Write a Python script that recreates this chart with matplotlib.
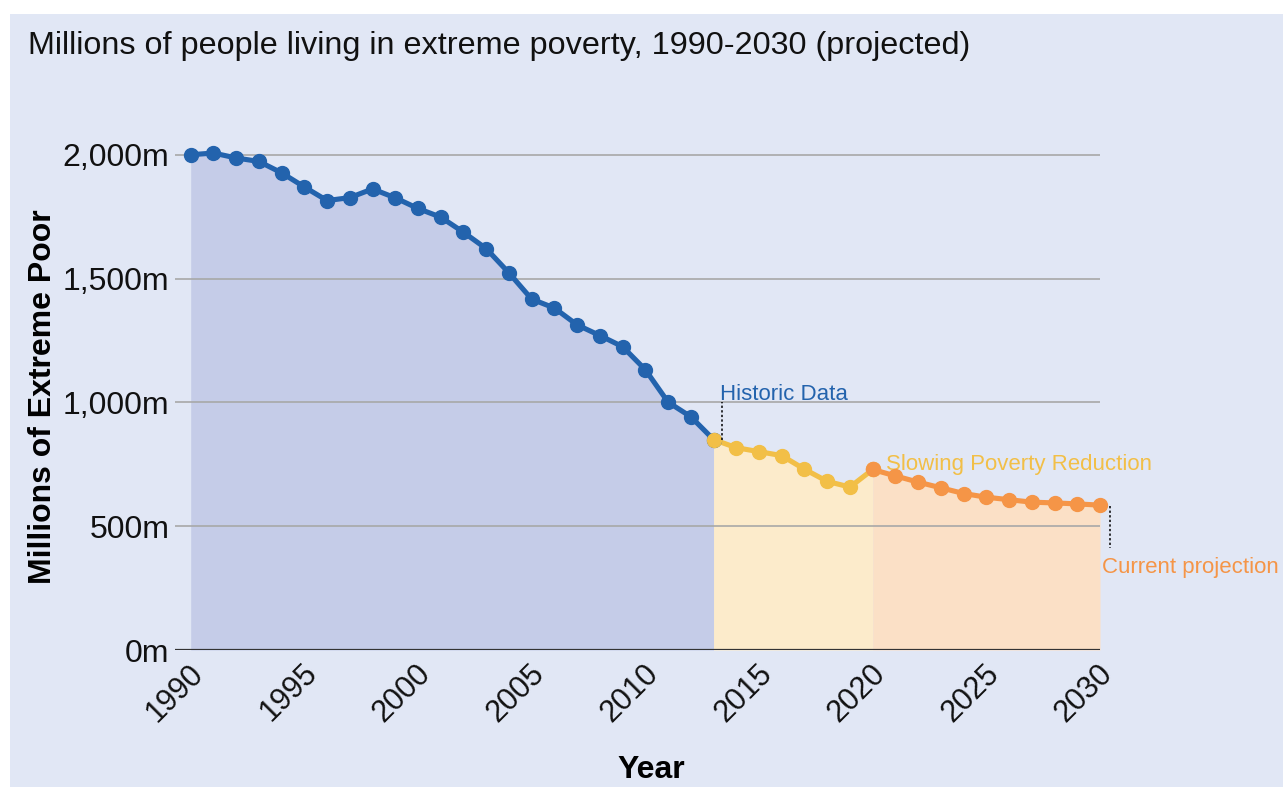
import matplotlib
matplotlib.use("Agg")
import matplotlib.pyplot as plt
import matplotlib.transforms as mtransforms
from matplotlib.patches import Rectangle
from matplotlib.ticker import FuncFormatter

plt.rcParams['font.family'] = ['Liberation Sans', 'DejaVu Sans']

# ---- data ----
hist_years = list(range(1990, 2014))
hist_values = [2000, 2007, 1987, 1973, 1927, 1870, 1815, 1827, 1862, 1826,
               1783, 1748, 1687, 1621, 1523, 1417, 1381, 1313, 1270, 1225,
               1132, 1001, 942, 850]
slow_years = list(range(2013, 2021))
slow_values = [850, 817, 801, 785, 730, 681, 658, 729]
proj_years = list(range(2020, 2031))
proj_values = [729, 703, 678, 655, 632, 617, 607, 597, 594, 590, 585]

y_ticks = [0, 500, 1000, 1500, 2000]
x_ticks = [1990, 1995, 2000, 2005, 2010, 2015, 2020, 2025, 2030]

title = "Millions of people living in extreme poverty, 1990-2030 (projected)"

# ---- colours ----
bg = '#e1e7f5'
blue, blue_fill = '#2363ad', '#c5cce8'
yellow, yellow_fill = '#f2bf47', '#fcebcb'
orange, orange_fill = '#f59547', '#fbe0c6'

W, H = 1283, 787
fig = plt.figure(figsize=(W / 100, H / 100), dpi=100, facecolor='white')
fig.patches.append(Rectangle((10 / W, 0), 1 - 10 / W, 1 - 14 / H,
                             transform=fig.transFigure, facecolor=bg,
                             edgecolor='none', zorder=-10))

left, right, bottom, top = 175, 1100, 650, 130
ax = fig.add_axes([left / W, 1 - bottom / H, (right - left) / W, (bottom - top) / H])
ax.set_facecolor('none')
ax.set_xlim(1989.31, 2030)
ax.set_ylim(0, 2100)

# fills
ax.fill_between(hist_years, hist_values, 0, color=blue_fill, lw=0, zorder=1)
ax.fill_between(slow_years, slow_values, 0, color=yellow_fill, lw=0, zorder=1)
ax.fill_between(proj_years, proj_values, 0, color=orange_fill, lw=0, zorder=1)

# grid
for v in y_ticks[1:]:
    ax.axhline(v, color='#a8a8a8', lw=1.2, zorder=2)
ax.axhline(0, color='#333333', lw=1.6, zorder=3)

# lines
lw, ms = 3.7, 10
ax.plot(proj_years, proj_values, color=orange, lw=lw, marker='o', ms=ms, zorder=4, clip_on=False)
ax.plot(slow_years, slow_values, color=yellow, lw=lw, marker='o', ms=ms, zorder=5, clip_on=False)
ax.plot(hist_years, hist_values, color=blue, lw=lw, marker='o', ms=ms, zorder=6, clip_on=False)
ax.plot([hist_years[-1]], [hist_values[-1]], color=yellow, marker='o', ms=ms, lw=0, zorder=7)
ax.plot([proj_years[0]], [proj_values[0]], color=orange, marker='o', ms=ms, lw=0, zorder=7)

# annotations
ax.plot([2013.36, 2013.36], [850, 1000], color='black', lw=1.1, ls=(0, (1.5, 1.5)), zorder=8)
ax.text(2013.3, 1010, "Historic Data", color=blue, fontsize=16, ha='left', va='baseline')
ax.text(2020.6, 725, "Slowing Poverty Reduction", color=yellow, fontsize=16, ha='left', va='baseline')
ax.plot([2030.45, 2030.45], [580, 410], color='black', lw=1.1, ls=(0, (1.5, 1.5)), zorder=8, clip_on=False)
ax.text(2030.1, 310, "Current projection", color=orange, fontsize=16, ha='left', va='baseline')

# axes styling
for s in ax.spines.values():
    s.set_visible(False)
ax.set_yticks(y_ticks)
ax.yaxis.set_major_formatter(FuncFormatter(lambda v, p: f"{int(v):,}m"))
ax.tick_params(axis='y', length=0, pad=4, labelsize=23, labelcolor='#111111')
ax.set_xticks(x_ticks)
ax.set_xticklabels([str(x) for x in x_ticks])
ax.tick_params(axis='x', length=0, pad=6, labelsize=22, labelcolor='#111111')
offset = mtransforms.ScaledTranslation(19 / 100, 0, fig.dpi_scale_trans)
for lab in ax.get_xticklabels():
    lab.set_rotation(45)
    lab.set_ha('right')
    lab.set_va('top')
    lab.set_transform(lab.get_transform() + offset)

ax.set_xlabel("Year", fontsize=23, fontweight='bold')
ax.xaxis.set_label_coords((651 - left) / (right - left), -(770 - bottom) / (bottom - top), transform=ax.transAxes)
ax.xaxis.label.set_va('center')
ax.set_ylabel("Millions of Extreme Poor", fontsize=23, fontweight='bold')
ax.yaxis.set_label_coords(-(left - 43) / (right - left), (bottom - 397) / (bottom - top))
ax.yaxis.label.set_va('center')

fig.text(28 / W, 1 - 46 / H, title, fontsize=23.3, ha='left', va='center', color='#111111')

fig.savefig("out.png", dpi=100, facecolor='white')
